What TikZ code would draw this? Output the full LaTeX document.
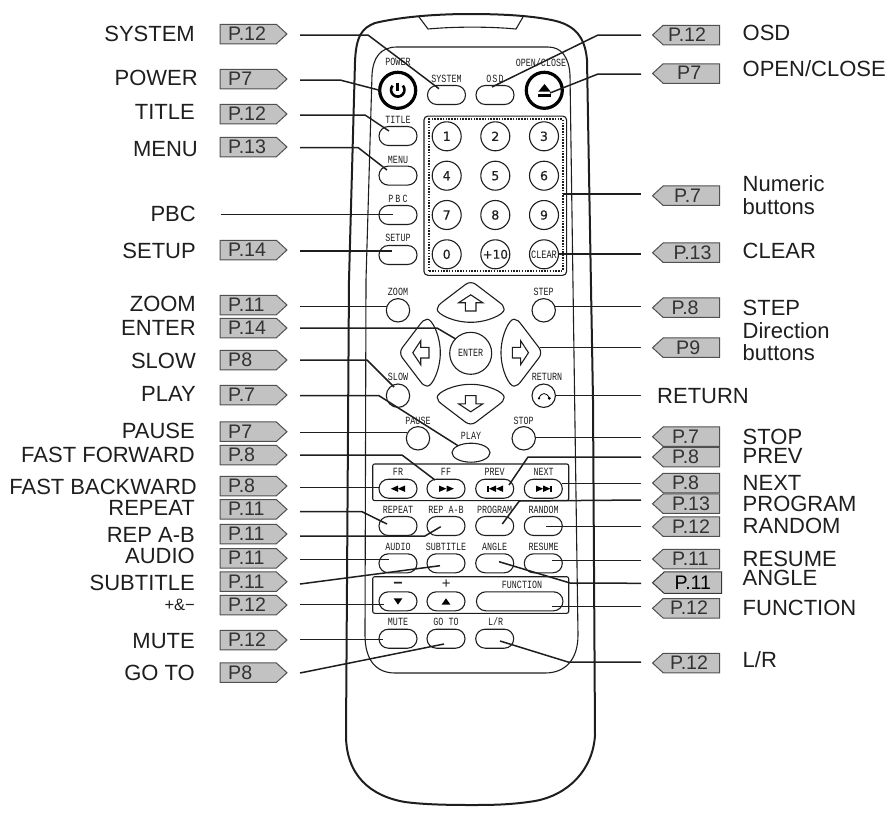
\documentclass[tikz,border=0pt]{standalone}
\usepackage{fontspec}
\setmainfont{Liberation Sans}
\newfontfamily\btnfont[FakeStretch=0.76]{Liberation Mono}
\newfontfamily\digfont[FakeBold=0.5]{DejaVu Sans}
\usetikzlibrary{shapes.symbols,shapes.geometric,calc}
\definecolor{ink}{HTML}{1E1E1E}
\definecolor{tagfill}{HTML}{C2C2C2}
\definecolor{tagedge}{HTML}{505050}
\tikzset{
  x=1pt,y=-1pt,
  body/.style={draw=ink,line width=2pt},
  panel/.style={draw=ink,line width=1.1pt},
  btnshape/.style={draw=ink,line width=1.1pt,fill=white},
  ovalbtn/.style={btnshape,rectangle,rounded corners=9.4pt,minimum width=38pt,minimum height=19pt,inner sep=0,outer sep=0},
  widebtn/.style={ovalbtn,minimum width=86.5pt},
  roundbtn/.style={btnshape,circle,minimum size=23.4pt,inner sep=0,outer sep=0},
  numbtn/.style={btnshape,circle,minimum size=29pt,inner sep=0,outer sep=0,font=\digfont\fontsize{12.5}{14}\selectfont,text=ink},
  thickbtn/.style={draw=black,line width=3.2pt,fill=white,circle,minimum size=36pt,inner sep=0,outer sep=0},
  tagr/.style={shape=signal,signal from=nowhere,signal to=east,signal pointer angle=85,draw=tagedge,line width=1pt,fill=tagfill,minimum width=67pt,minimum height=19.5pt,inner sep=0,outer sep=0,anchor=west},
  tagl/.style={shape=signal,signal from=nowhere,signal to=west,signal pointer angle=85,draw=tagedge,line width=1pt,fill=tagfill,minimum width=67pt,minimum height=19.5pt,inner sep=0,outer sep=0,anchor=east},
  tagtext/.style={anchor=west,inner sep=0,font=\fontsize{19.6}{21}\selectfont,text=black!80},
  biglabel/.style={inner sep=0,font=\fontsize{22}{24}\selectfont,text=ink},
  btntext/.style={inner sep=0,font=\btnfont\fontsize{11}{12}\selectfont,text=ink},
  conn/.style={draw=ink,line width=1.5pt,line join=round},
  arrowline/.style={draw=ink,line width=1.1pt,fill=white,line join=miter},
}
% left entry: id, y of tag, tag text, label, label right edge, y of label, y of line
\newcommand\leftentry[7]{%
  \node[tagr] (#1) at (220,#2) {};
  \node[tagtext] (#1-t) at (228,#2-0.4) {#3};
  \node[biglabel,anchor=east] (#1-l) at (#5,#6) {#4};
  \coordinate (#1-s) at (300,#7);
}
% right entry: id, y of tag, tag text, x of tag text, label, y of label, y of line
\newcommand\rightentry[7]{%
  \node[tagl] (#1) at (719.5,#2) {};
  \node[tagtext] (#1-t) at (#4,#2-0.4) {#3};
  \node[biglabel,anchor=west] (#1-l) at (742.5,#6) {#5};
  \coordinate (#1-s) at (641,#7);
}
\newcommand\btnlabel[4]{\node[btntext] (#1) at (#2,#3) {#4};}
\newcommand\padshape[3]{%
  \begin{scope}[shift={(#1,#2)},rotate=#3]
    \draw[btnshape,line join=round] (-33.5,0) .. controls (-33.5,-3.5) and (-31,-5) .. (-28,-7.5) -- (-5,-25)
      .. controls (-2,-27.2) and (2,-27.2) .. (5,-25) -- (28,-7.5)
      .. controls (31,-5) and (33.5,-3.5) .. (33.5,0)
      .. controls (33.5,5) and (17,13) .. (0,13)
      .. controls (-17,13) and (-33.5,5) .. (-33.5,0) -- cycle;
    \draw[arrowline] (0,-14.5) -- (12,-6.6) -- (5.3,-6.6) -- (5.3,1.7) -- (-5.3,1.7) -- (-5.3,-6.6) -- (-12,-6.6) -- cycle;
  \end{scope}}
\newcommand\tri[3]{\fill[black] (#1,#2-3.2) -- (#1,#2+3.2) -- (#1+#3,#2) -- cycle;}
\begin{document}
\begin{tikzpicture}
\useasboundingbox (0,0) rectangle (887,812);
% casing
\draw[body] (349,280) -- (355,62) .. controls (356,36) and (362,28) .. (375,23)
  .. controls (400,17) and (435,14) .. (470,14)
  .. controls (505,14) and (535,16) .. (556,21)
  .. controls (575,26) and (585,37) .. (587,60)
  -- (593,400) -- (595,735)
  .. controls (593,770) and (568,795) .. (535,801)
  .. controls (510,805) and (490,805) .. (470,805)
  .. controls (440,805) and (420,804) .. (405,802)
  .. controls (370,796) and (346,775) .. (346,735) -- cycle;
\draw[panel] (419,17) -- (428,29) .. controls (455,26.5) and (490,26.5) .. (516,29) -- (523,17);
\draw[panel] (366,280) -- (372,75) .. controls (373,58) and (380,47) .. (397,47)
  -- (548,47) .. controls (562,47) and (569,58) .. (570,75) -- (578,635)
  .. controls (578,660) and (565,673) .. (545,673) -- (395,673)
  .. controls (376,673) and (365,660) .. (365,635) -- cycle;
% numeric panel
\node[draw=ink,line width=1.1pt,rounded corners=4pt,minimum width=142.7pt,minimum height=159.3pt,inner sep=0,outer sep=0] (numpanel) at (495.3,195.7) {};
\node[draw=ink,line width=1.9pt,dash pattern=on 1.5pt off 1.3pt,minimum width=133.4pt,minimum height=151.4pt,inner sep=0,outer sep=0] (numdots) at (496,195) {};
% group frames
\node[draw=ink,line width=1.1pt,rounded corners=2pt,minimum width=196pt,minimum height=36.7pt,inner sep=0,outer sep=0] (frame1) at (470.7,482.3) {};
\node[draw=ink,line width=1.1pt,rounded corners=2pt,minimum width=196pt,minimum height=36.6pt,inner sep=0,outer sep=0] (frame2) at (470.7,595) {};
% top buttons
\node[thickbtn] (bpower) at (397.7,90.3) {};
\node[thickbtn] (bopen) at (544.3,90.3) {};
\node[ovalbtn] (bsystem) at (446.5,95) {};
\node[ovalbtn] (bosd) at (495,95) {};
\node[ovalbtn] (btitle) at (398,136) {};
\node[ovalbtn] (bmenu) at (398,175.6) {};
\node[ovalbtn] (bpbc) at (398,215) {};
\node[ovalbtn] (bsetup) at (398,255) {};
\draw[black,line width=2.6pt] (392.6,85.6) arc[start angle=220,end angle=-40,radius=6.7];
\draw[black,line width=2.6pt] (397.7,83) -- (397.7,90.5);
\fill[black] (538.3,91.7) -- (550.7,91.7) -- (544.5,84) -- cycle;
\fill[black] (538.3,93.7) rectangle (550.7,96.7);
% numeric buttons
\node[numbtn] (n1) at (446.7,136.3) {1};
\node[numbtn] (n2) at (495.3,136.3) {2};
\node[numbtn] (n3) at (544,136.3) {3};
\node[numbtn] (n4) at (446.7,175.7) {4};
\node[numbtn] (n5) at (495.3,175.7) {5};
\node[numbtn] (n6) at (544,175.7) {6};
\node[numbtn] (n7) at (446.7,215) {7};
\node[numbtn] (n8) at (495.3,215) {8};
\node[numbtn] (n9) at (544,215) {9};
\node[numbtn] (n0) at (446.7,254.3) {0};
\node[numbtn,font=\digfont\fontsize{12}{14}\selectfont] (n10) at (495.3,254.3) {+10};
\node[numbtn,font=\btnfont\fontsize{11.3}{12}\selectfont] (nclear) at (544,254.3) {CLEAR};
% direction pad
\padshape{470.7}{309.3}{0}
\padshape{470.7}{397.3}{180}
\padshape{427.3}{352.7}{90}
\padshape{514}{352.7}{-90}
\node[btnshape,circle,minimum size=42pt,inner sep=0,outer sep=0,font=\btnfont\fontsize{11}{12}\selectfont,text=ink] (benter) at (470.7,353.3) {ENTER};
\node[roundbtn] (bzoom) at (398,310.3) {};
\node[roundbtn] (bstep) at (543.7,310.3) {};
\node[roundbtn] (bslow) at (398,395.7) {};
\node[roundbtn] (breturn) at (543.7,395.7) {};
\draw[black,line width=0.8pt] (539,398.3) .. controls (541,392) and (547,392) .. (549.3,398.3);
\fill[black] (539,398.3) circle (1.3);
\fill[black] (549.3,398.3) circle (1.6);
\node[roundbtn] (bpause) at (418,438.3) {};
\node[roundbtn] (bstop) at (523.7,438.3) {};
\node[draw=ink,line width=1.1pt,fill=white,ellipse,minimum width=38pt,minimum height=19pt,inner sep=0,outer sep=0] (bplay) at (471,452.7) {};
% transport row
\node[ovalbtn] (bfr) at (398,488.7) {};
\node[ovalbtn] (bff) at (446,488.7) {};
\node[ovalbtn] (bprev) at (494.7,488.7) {};
\node[ovalbtn] (bnext) at (543.3,488.7) {};
\tri{398}{488.7}{-7.2}\tri{405}{488.7}{-7.2}
\tri{439}{488.7}{7.4}\tri{446.5}{488.7}{7.4}
\fill[black] (487.3,485.5) rectangle (488.8,491.9);
\tri{496}{488.7}{-7}\tri{503}{488.7}{-7}
\tri{536}{488.7}{7.2}\tri{543.2}{488.7}{7.2}
\fill[black] (550.4,485.5) rectangle (551.9,491.9);
% other rows
\node[ovalbtn] (brepeat) at (398,526) {};
\node[ovalbtn] (brepab) at (446,526) {};
\node[ovalbtn] (bprogram) at (494.7,526) {};
\node[ovalbtn] (brandom) at (543.3,526) {};
\node[ovalbtn] (baudio) at (398,563.3) {};
\node[ovalbtn] (bsubtitle) at (446,563.3) {};
\node[ovalbtn] (bangle) at (494.7,563.3) {};
\node[ovalbtn] (bresume) at (543.3,563.3) {};
\node[ovalbtn] (bminus) at (398,601.3) {};
\node[ovalbtn] (bplus) at (446,601.3) {};
\node[widebtn] (bfunction) at (519.7,601.3) {};
\fill[black] (393.6,598.3) -- (402.4,598.3) -- (398,604.6) -- cycle;
\fill[black] (441.6,604.6) -- (450.4,604.6) -- (446,598.3) -- cycle;
\node[ovalbtn] (bmute) at (398,638.7) {};
\node[ovalbtn] (bgoto) at (446,638.7) {};
\node[ovalbtn] (blr) at (494.7,638.7) {};
% button captions
\btnlabel{cpower}{398}{62.3}{POWER}
\btnlabel{csystem}{446.5}{78.5}{SYSTEM}
\btnlabel{cosd}{495}{78.5}{O\kern1pt S\kern1pt D}
\btnlabel{copen}{541}{63}{OPEN/CLOSE}
\btnlabel{ctitle}{398}{120}{TITLE}
\btnlabel{cmenu}{398}{159.5}{MENU}
\btnlabel{cpbc}{398}{198.7}{P\kern2pt B\kern2pt C}
\btnlabel{csetup}{398}{238}{SETUP}
\btnlabel{czoom}{398}{291.7}{ZOOM}
\btnlabel{cstep}{543.7}{291.7}{STEP}
\btnlabel{cslow}{398}{377}{SLOW}
\btnlabel{creturn}{547}{377}{RETURN}
\btnlabel{cpause}{418}{421}{PAUSE}
\btnlabel{cstop}{523.7}{421}{STOP}
\btnlabel{cplay}{471}{435.7}{PLAY}
\btnlabel{cfr}{398}{471.7}{FR}
\btnlabel{cff}{446}{471.7}{FF}
\btnlabel{cprev}{494.7}{471.7}{PREV}
\btnlabel{cnext}{543.7}{471.7}{NEXT}
\btnlabel{crepeat}{398}{509.7}{REPEAT}
\btnlabel{crepab}{446}{509.7}{REP A-B}
\btnlabel{cprogram}{494.7}{509.7}{PROGRAM}
\btnlabel{crandom}{543.7}{509.7}{RANDOM}
\btnlabel{caudio}{398}{546.7}{AUDIO}
\btnlabel{csubtitle}{446}{546.7}{SUBTITLE}
\btnlabel{cangle}{494.7}{546.7}{ANGLE}
\btnlabel{cresume}{543.7}{546.7}{RESUME}
\btnlabel{cfunction}{522}{584.7}{FUNCTION}
\btnlabel{cmute}{398}{622}{MUTE}
\btnlabel{cgoto}{446}{622}{GO TO}
\btnlabel{clr}{495.7}{622}{L/R}
\node[inner sep=0,font=\fontsize{16}{18}\selectfont\bfseries,text=ink] (cminus) at (398,585) {\textminus};
\node[inner sep=0,font=\fontsize{15}{18}\selectfont,text=ink] (cplus) at (446.3,584.5) {+};
% left entries
\leftentry{lsystem}{34}{P.12}{SYSTEM}{195}{34}{35}
\leftentry{lpower}{79}{P7}{POWER}{198}{78}{80}
\leftentry{ltitle}{114}{P.12}{TITLE}{195}{112}{115}
\leftentry{lmenu}{147}{P.13}{MENU}{198}{149}{147.5}
\node[biglabel,anchor=east] (lpbc-l) at (196,214) {PBC};
\coordinate (lpbc-s) at (221,214.7);
\leftentry{lsetup}{250}{P.14}{SETUP}{196}{251}{251}
\leftentry{lzoom}{305}{P.11}{ZOOM}{196}{304}{306.7}
\leftentry{lenter}{328}{P.14}{ENTER}{196}{328}{328}
\leftentry{lslow}{360}{P8}{SLOW}{196}{361}{360}
\leftentry{lplay}{395}{P.7}{PLAY}{196}{394}{395.7}
\leftentry{lpause}{431.7}{P7}{PAUSE}{195}{430.7}{432.3}
\leftentry{lff}{455}{P.8}{FAST FORWARD}{195}{455}{455}
\leftentry{lfr}{486}{P.8}{FAST BACKWARD}{197}{486.7}{487.3}
\leftentry{lrepeat}{509.3}{P.11}{REPEAT}{195}{508.3}{511.7}
\leftentry{lrepab}{534}{P.11}{REP A-B}{195}{535}{536}
\leftentry{laudio}{558.3}{P.11}{AUDIO}{195}{556}{559.3}
\leftentry{lsubtitle}{581.7}{P.11}{SUBTITLE}{195}{582.7}{584}
\node[tagr] (lminus) at (220,605) {};
\node[tagtext] (lminus-t) at (228,604.6) {P.12};
\node[biglabel,anchor=east,font=\fontsize{16.5}{18}\selectfont] (lminus-l) at (195,605) {+\&\textminus};
\coordinate (lminus-s) at (300,604.7);
\leftentry{lmute}{640}{P.12}{MUTE}{195}{640.7}{639.7}
\leftentry{lgoto}{672.7}{P8}{GO TO}{195}{673.3}{673}
% right entries
\rightentry{rosd}{35}{P.12}{668}{OSD}{33}{35}
\rightentry{ropen}{73.5}{P7}{677}{OPEN/CLOSE}{69}{74}
\rightentry{rnum}{195.7}{P.7}{674}{Numeric}{184}{194}
\node[biglabel,anchor=west] (rnum-l2) at (742.5,207) {buttons};
\rightentry{rclear}{252.7}{P.13}{673.5}{CLEAR}{250.7}{254}
\rightentry{rstep}{307.7}{P.8}{671.5}{STEP}{308}{306.7}
\rightentry{rdir}{347.7}{P9}{676}{Direction}{331}{347.7}
\node[biglabel,anchor=west] (rdir-l2) at (742.5,353) {buttons};
\node[biglabel,anchor=west] (rreturn-l) at (657,396) {RETURN};
\coordinate (rreturn-s) at (641,395.7);
\rightentry{rstop}{436.7}{P.7}{672}{STOP}{436.7}{437.3}
\rightentry{rprev}{457}{P.8}{672}{PREV}{456}{457}
\rightentry{rnext}{483}{P.8}{672}{NEXT}{482.7}{483.3}
\rightentry{rprogram}{503.7}{P.13}{672}{PROGRAM}{504}{500}
\rightentry{rrandom}{526.7}{P.12}{672}{RANDOM}{526}{526.3}
\rightentry{rresume}{559}{P.11}{672}{RESUME}{559}{560.3}
\node[tagl,draw=tagedge!70!black,minimum width=69pt,minimum height=21.5pt] (rangle) at (721.5,582.7) {};
\node[tagtext,text=black] (rangle-t) at (674.5,582.7) {P.11};
\node[biglabel,anchor=west] (rangle-l) at (742.5,578) {ANGLE};
\coordinate (rangle-s) at (641,583.3);
\rightentry{rfunction}{608.3}{P.12}{670}{FUNCTION}{608}{606.7}
\rightentry{rlr}{663}{P.12}{670}{L/R}{660}{662}
% left connectors
\draw[conn] (lsystem-s) -- (368,35) -- ($(bsystem)+(-7.5,-6.3)$);
\draw[conn] (lpower-s) -- (340,80) -- (bpower.west);
\draw[conn] (ltitle-s) -- (365,115) -- ($(btitle)+(-9,-5)$);
\draw[conn] (lmenu-s) -- (358,147.5) -- ($(bmenu)+(-11,-5.6)$);
\draw[conn] (lpbc-s) -- ($(bpbc)+(-5,-0.3)$);
\draw[conn] (lsetup-s) -- ($(bsetup)+(-6,-4)$);
\draw[conn] (lzoom-s) -- ($(bzoom)+(-11.5,-3.6)$);
\draw[conn] (lenter-s) -- (437,328) -- ($(benter)+(-15,-14.3)$);
\draw[conn] (lslow-s) -- (367,360) -- ($(bslow)+(-4,-8.7)$);
\draw[conn] (lplay-s) -- (379,395.7) -- ($(bplay)+(-13,-7)$);
\draw[conn] (lpause-s) -- ($(bpause)+(-11.3,-6)$);
\draw[conn] (lff-s) -- (402,455) -- ($(bff)+(-11,-8.7)$);
\draw[conn] (lfr-s) -- ($(bfr)+(-19,-1.4)$);
\draw[conn] (lrepeat-s) -- (362,511.7) -- ($(brepeat)+(-11,-2)$);
\draw[conn] (lrepab-s) -- (425,536) -- ($(brepab)+(-5.3,0.7)$);
\draw[conn] (laudio-s) -- ($(baudio)+(-9,-4)$);
\draw[conn] (lsubtitle-s) -- ($(bsubtitle)+(-6,2.4)$);
\draw[conn] (lminus-s) -- ($(bminus)+(-14,3.4)$);
\draw[conn] (lmute-s) -- ($(bmute)+(-15,1)$);
\draw[conn] (lgoto-s) -- ($(bgoto)+(-2,5.3)$);
% right connectors
\draw[conn] (rosd-s) -- (598,35) -- ($(bosd)+(-3,-8)$);
\draw[conn] (ropen-s) -- (598,74) -- ($(bopen)+(5.7,2.7)$);
\draw[conn] (rnum-s) -- (numdots.east |- rnum-s);
\draw[conn] (rclear-s) -- (nclear.east |- rclear-s);
\draw[conn] (rstep-s) -- (bstep.east |- rstep-s);
\draw[conn] (rdir-s) -- (540,347.7);
\draw[conn] (rreturn-s) -- (breturn.east |- rreturn-s);
\draw[conn] (rstop-s) -- (bstop.east |- rstop-s);
\draw[conn] (rprev-s) -- (528,457) -- ($(bprev)+(14.3,-3.7)$);
\draw[conn] (rnext-s) -- (bnext.east |- rnext-s);
\draw[conn] (rprogram-s) -- (519.3,501) -- ($(bprogram)+(7.6,-2)$);
\draw[conn] (rrandom-s) -- ($(brandom)+(2.4,0.3)$);
\draw[conn] (rresume-s) -- ($(bresume)+(8.4,-3)$);
\draw[conn] (rangle-s) -- (570,583) -- ($(bangle)+(4.3,-1.6)$);
\draw[conn] (rfunction-s) -- ($(bfunction)+(32,5.4)$);
\draw[conn] (rlr-s) -- (568,662) -- ($(blr)+(5.3,2.3)$);
\end{tikzpicture}
\end{document}
